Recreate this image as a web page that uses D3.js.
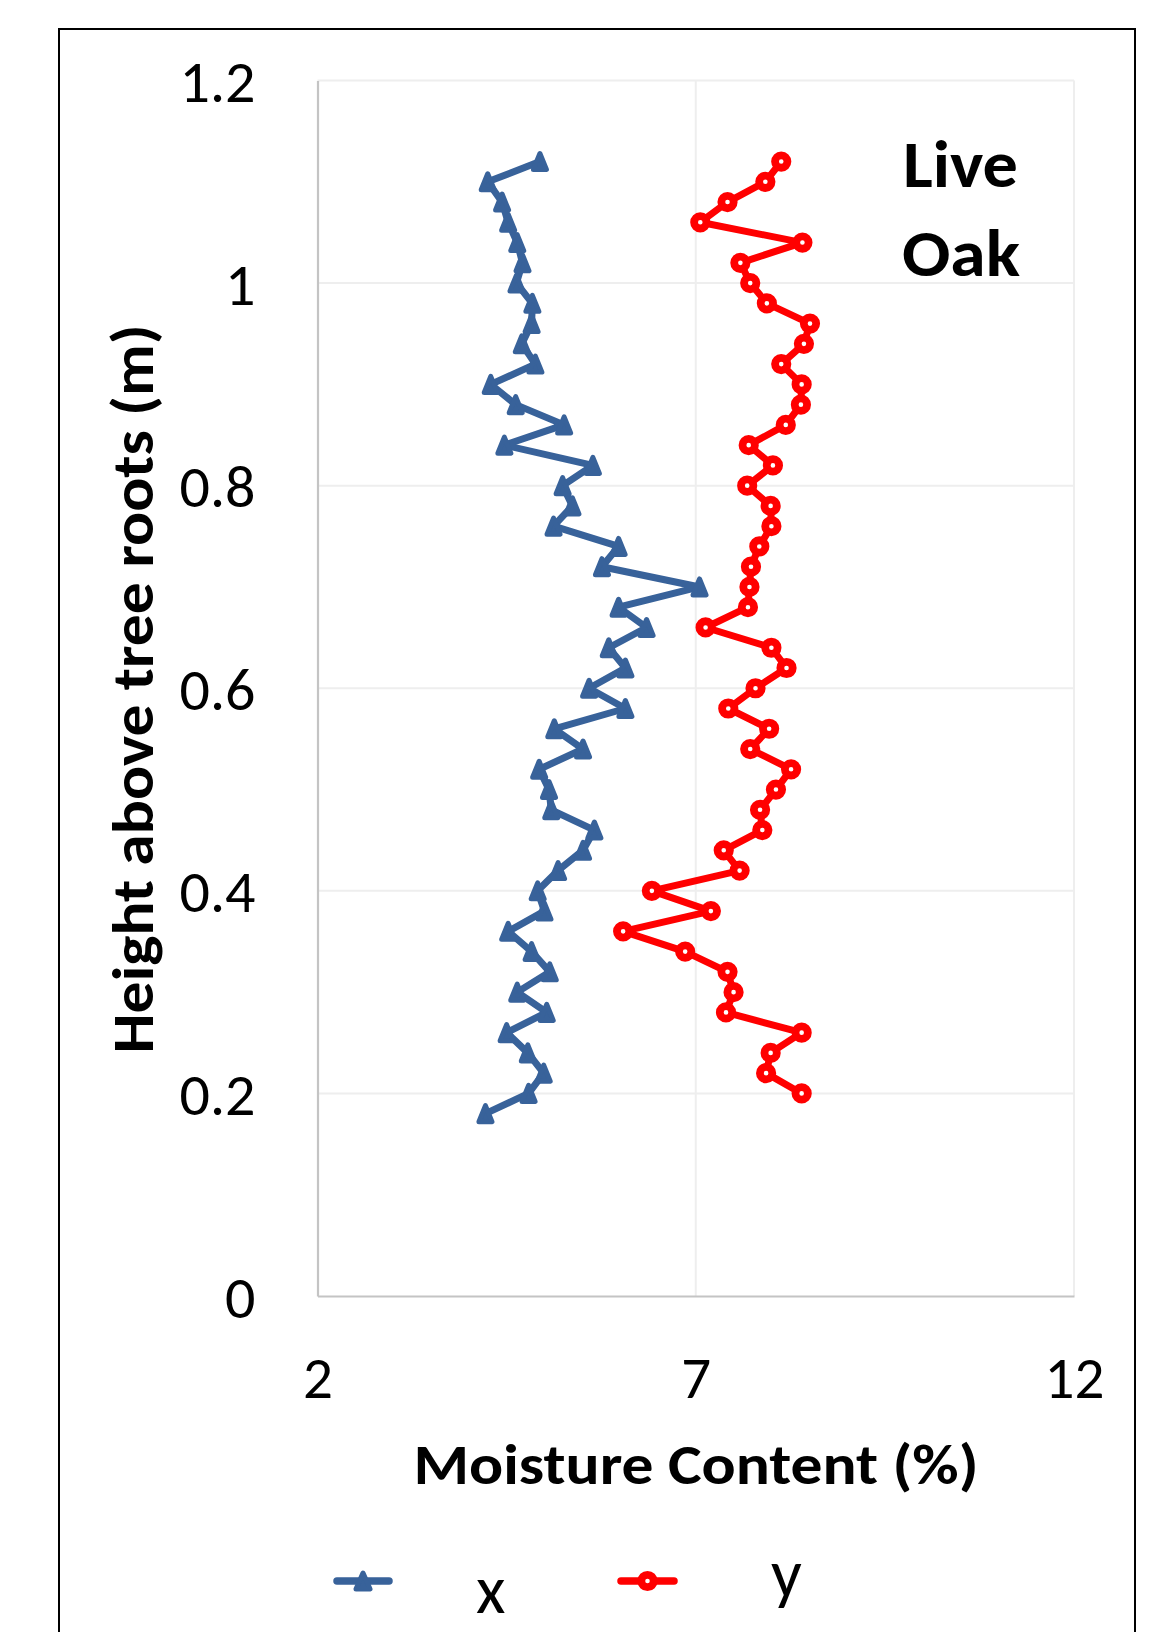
<!DOCTYPE html>
<html>
<head>
<meta charset="utf-8">
<script src="https://cdn.jsdelivr.net/npm/d3@7/dist/d3.min.js"></script>
<style>
  html, body { margin: 0; padding: 0; background: #fff; }
  svg { display: block; }
  text { font-family: Carlito, Lato, "Open Sans", sans-serif; fill: #000; }
</style>
</head>
<body>
<svg id="chart" width="1162" height="1632"></svg>
<script>
// Moisture profile along the trunk, two measurement directions (x and y)
const xHeights = [1.12, 1.10, 1.08, 1.06, 1.04, 1.02, 1.00, 0.98, 0.96, 0.94,
                  0.92, 0.90, 0.88, 0.86, 0.84, 0.82, 0.80, 0.78, 0.76, 0.74,
                  0.72, 0.70, 0.68, 0.66, 0.64, 0.62, 0.60, 0.58, 0.56, 0.54,
                  0.52, 0.50, 0.48, 0.46, 0.44, 0.42, 0.40, 0.38, 0.36, 0.34,
                  0.32, 0.30, 0.28, 0.26, 0.24, 0.22, 0.20, 0.18];
const xMoisture = [4.94, 4.25, 4.44, 4.52, 4.64, 4.71, 4.63, 4.84, 4.83, 4.70,
                   4.88, 4.29, 4.62, 5.26, 4.47, 5.64, 5.24, 5.37, 5.12, 5.98,
                   5.76, 7.05, 5.98, 6.35, 5.85, 6.07, 5.59, 6.07, 5.13, 5.51,
                   4.93, 5.06, 5.09, 5.66, 5.51, 5.18, 4.91, 5.00, 4.52, 4.83,
                   5.07, 4.64, 5.03, 4.50, 4.78, 4.99, 4.79, 4.22];

const yHeights = [1.12, 1.10, 1.08, 1.06, 1.04, 1.02, 1.00, 0.98, 0.96, 0.94,
                  0.92, 0.90, 0.88, 0.86, 0.84, 0.82, 0.80, 0.78, 0.76, 0.74,
                  0.72, 0.70, 0.68, 0.66, 0.64, 0.62, 0.60, 0.58, 0.56, 0.54,
                  0.52, 0.50, 0.48, 0.46, 0.44, 0.42, 0.40, 0.38, 0.36, 0.34,
                  0.32, 0.30, 0.28, 0.26, 0.24, 0.22, 0.20];
const yMoisture = [8.13, 7.92, 7.42, 7.06, 8.41, 7.59, 7.72, 7.94, 8.51, 8.43,
                   8.13, 8.40, 8.39, 8.19, 7.70, 8.02, 7.68, 7.99, 8.00, 7.84,
                   7.73, 7.71, 7.69, 7.13, 8.00, 8.20, 7.79, 7.43, 7.97, 7.72,
                   8.26, 8.06, 7.85, 7.88, 7.37, 7.58, 6.42, 7.20, 6.04, 6.86,
                   7.42, 7.50, 7.40, 8.40, 7.99, 7.93, 8.40];

const xTicks = [2, 7, 12];
const yTicks = [0, 0.2, 0.4, 0.6, 0.8, 1, 1.2];
const seriesNames = ["x", "y"];
const chartLabel = ["Live", "Oak"];
const xTitle = "Moisture Content (%)";
const yTitle = "Height above tree roots (m)";

const blue = "#38629A";
const red = "#FF0000";

const svg = d3.select("#chart");

// outer chart frame (runs past the bottom edge of the page)
svg.append("rect")
  .attr("x", 59).attr("y", 29)
  .attr("width", 1076).attr("height", 1640)
  .attr("fill", "none").attr("stroke", "#000").attr("stroke-width", 2);

const plot = { left: 317.5, right: 1074, top: 80.5, bottom: 1296 };

const x = d3.scaleLinear().domain([2, 12]).range([plot.left, plot.right]);
const y = d3.scaleLinear().domain([0, 1.2]).range([plot.bottom, plot.top]);

// gridlines
const grid = svg.append("g");
grid.selectAll("line.h").data(yTicks.filter(d => d > 0)).join("line")
  .attr("x1", plot.left).attr("x2", plot.right)
  .attr("y1", d => y(d)).attr("y2", d => y(d))
  .attr("stroke", "#EEEEEE").attr("stroke-width", 2);
grid.selectAll("line.v").data(xTicks.filter(d => d > 2)).join("line")
  .attr("y1", plot.top).attr("y2", plot.bottom)
  .attr("x1", d => x(d)).attr("x2", d => x(d))
  .attr("stroke", "#EEEEEE").attr("stroke-width", 2);

// axes (lines only, labels drawn with large type)
const xAxis = svg.append("g").attr("transform", `translate(0,${plot.bottom})`)
  .call(d3.axisBottom(x).tickValues(xTicks).tickSize(0).tickFormat(d3.format("d")));
xAxis.select(".domain").attr("stroke", "#C4C4C4").attr("stroke-width", 2.2);
xAxis.selectAll(".tick text")
  .attr("y", 0).attr("dy", 0)
  .attr("transform", "translate(0,102)")
  .style("font-size", "59px").style("font-family", "Carlito, Lato, sans-serif").attr("fill", "#000");

const yAxis = svg.append("g").attr("transform", `translate(${plot.left},0)`)
  .call(d3.axisLeft(y).tickValues(yTicks).tickSize(0).tickFormat(d => d3.format("~g")(d)));
yAxis.select(".domain").attr("stroke", "#C4C4C4").attr("stroke-width", 2.2);
yAxis.selectAll(".tick text")
  .attr("x", -62).attr("dy", "0.35em")
  .style("font-size", "60px").style("font-family", "Carlito, Lato, sans-serif").attr("fill", "#000");

// axis titles
svg.append("text")
  .attr("x", 696).attr("y", 1484)
  .attr("text-anchor", "middle")
  .attr("font-weight", "bold").attr("font-size", 57)
  .attr("textLength", 565).attr("lengthAdjust", "spacingAndGlyphs")
  .text(xTitle);

svg.append("text")
  .attr("transform", "translate(153,689) rotate(-90)")
  .attr("text-anchor", "middle")
  .attr("font-weight", "bold").attr("font-size", 59)
  .attr("textLength", 729).attr("lengthAdjust", "spacingAndGlyphs")
  .text(yTitle);

// tree label inside the plot
svg.append("text")
  .attr("x", 903).attr("y", 187)
  .attr("font-weight", "bold").attr("font-size", 66)
  .attr("textLength", 115).attr("lengthAdjust", "spacingAndGlyphs")
  .text(chartLabel[0]);
svg.append("text")
  .attr("x", 902).attr("y", 276)
  .attr("font-weight", "bold").attr("font-size", 66)
  .attr("textLength", 118).attr("lengthAdjust", "spacingAndGlyphs")
  .text(chartLabel[1]);

// marker shapes
function triPath(w, h) {
  return `M0,${-h / 2}L${w / 2},${h / 2}L${-w / 2},${h / 2}Z`;
}

const xData = xHeights.map((h, i) => ({ h, v: xMoisture[i] }));
const yData = yHeights.map((h, i) => ({ h, v: yMoisture[i] }));

const line = d3.line().x(d => x(d.v)).y(d => y(d.h));

// series x: blue with triangles
svg.append("path").datum(xData)
  .attr("d", line)
  .attr("fill", "none").attr("stroke", blue)
  .attr("stroke-width", 7).attr("stroke-linejoin", "round").attr("stroke-linecap", "round");
svg.append("g").selectAll("path").data(xData).join("path")
  .attr("transform", d => `translate(${x(d.v)},${y(d.h)})`)
  .attr("d", triPath(13, 16))
  .attr("fill", blue).attr("stroke", blue)
  .attr("stroke-width", 5).attr("stroke-linejoin", "round");

// series y: red with hollow circles
svg.append("path").datum(yData)
  .attr("d", line)
  .attr("fill", "none").attr("stroke", red)
  .attr("stroke-width", 7).attr("stroke-linejoin", "round").attr("stroke-linecap", "round");
svg.append("g").selectAll("circle").data(yData).join("circle")
  .attr("cx", d => x(d.v)).attr("cy", d => y(d.h))
  .attr("r", 6.2)
  .attr("fill", "#fff").attr("stroke", red).attr("stroke-width", 7.8);

// legend
const legend = svg.append("g");
const legendItems = [
  { name: seriesNames[0], color: blue, x0: 337, x1: 389, tx: 476, ty: 1613, marker: "tri" },
  { name: seriesNames[1], color: red, x0: 621, x1: 674, tx: 771, ty: 1597, marker: "circle" }
];
legendItems.forEach(it => {
  const ly = 1581;
  legend.append("line")
    .attr("x1", it.x0).attr("x2", it.x1).attr("y1", ly).attr("y2", ly)
    .attr("stroke", it.color).attr("stroke-width", 7.5).attr("stroke-linecap", "round");
  const cx = (it.x0 + it.x1) / 2;
  if (it.marker === "tri") {
    legend.append("path")
      .attr("transform", `translate(${cx},${ly})`)
      .attr("d", triPath(14, 16))
      .attr("fill", it.color).attr("stroke", it.color)
      .attr("stroke-width", 5).attr("stroke-linejoin", "round");
  } else {
    legend.append("circle")
      .attr("cx", cx).attr("cy", ly).attr("r", 6.2)
      .attr("fill", "#fff").attr("stroke", it.color).attr("stroke-width", 7.8);
  }
  legend.append("text")
    .attr("x", it.tx).attr("y", it.ty)
    .attr("font-size", 68)
    .text(it.name);
});
</script>
</body>
</html>
